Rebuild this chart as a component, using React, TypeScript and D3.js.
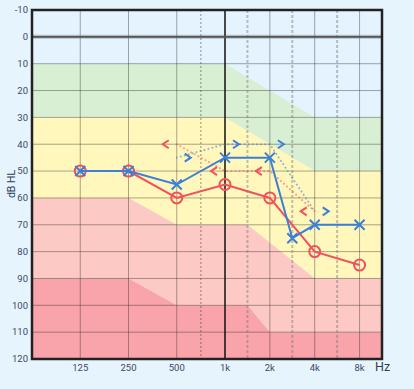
import React from 'react';
import * as d3 from 'd3';

// audiogram values (dB HL)
const tickFreqs = [125, 250, 500, 1000, 2000, 4000, 8000];
const tickLabels = ['125', '250', '500', '1k', '2k', '4k', '8k'];
const midFreqs = [750, 1500, 3000, 6000];
const dbTicks = [-10, 0, 10, 20, 30, 40, 50, 60, 70, 80, 90, 100, 110, 120];

const rightAirFreqs = [125, 250, 500, 1000, 2000, 4000, 8000];
const rightAirDb = [50, 50, 60, 55, 60, 80, 85];
const leftAirFreqs = [125, 250, 500, 1000, 2000, 3000, 4000, 8000];
const leftAirDb = [50, 50, 55, 45, 45, 75, 70, 70];

const boneFreqs = [500, 1000, 2000, 4000];
const rightBoneDb = [40, 50, 50, 65];
const leftBoneDb = [45, 40, 40, 65];

// hearing-loss band edges: [freq, dB]
const edgeNormal: [number, number][] = [[1000, 10], [4000, 30]];
const edgeMild: [number, number][] = [[1000, 30], [4000, 50]];
const edgeModerate: [number, number][] = [[250, 60], [500, 70], [1500, 70], [4000, 90]];
const edgeSevere: [number, number][] = [[250, 90], [500, 100], [1500, 100], [2000, 110]];
const edgeBottom: [number, number][] = [[1000, 120]];

const W = 414;
const H = 389;
const L = 32, R = 382, T = 10, B = 359;

const RED = '#f2505c';
const BLUE = '#3b7fd6';
const TXT = '#3d4766';

// half-octave slot index (125 -> 1, 750 -> 3.5, ...)
const idx = (f: number) => Math.round((Math.log2(f / 125) + 1) * 2) / 2;

const x = d3.scaleLinear().domain([0, 4, 7.5]).range([L, 225, R]);
const y = d3.scaleLinear().domain([-10, 120]).range([T, B]);
const fx = (f: number) => x(idx(f));

const edgePts = (e: [number, number][]) => [
  [x(0), y(e[0][1])] as [number, number],
  ...e.map(([f, d]) => [fx(f), y(d)] as [number, number]),
  [x(7.5), y(e[e.length - 1][1])] as [number, number],
];

const band = (top: [number, number][], bot: [number, number][]) => {
  const pts = [...edgePts(top), ...edgePts(bot).reverse()];
  return d3.line()(pts) + 'Z';
};

const line = d3.line<[number, number]>();

export default function App() {
  const rightPts = rightAirFreqs.map((f, i) => [fx(f), y(rightAirDb[i])] as [number, number]);
  const leftPts = leftAirFreqs.map((f, i) => [fx(f), y(leftAirDb[i])] as [number, number]);
  const rbPts = boneFreqs.map((f, i) => [fx(f), y(rightBoneDb[i])] as [number, number]);
  const lbPts = boneFreqs.map((f, i) => [fx(f), y(leftBoneDb[i])] as [number, number]);
  const font = 'Roboto, "Noto Sans", sans-serif';

  return (
    <svg width={W} height={H} style={{ position: 'absolute', left: 0, top: 0, display: 'block' }}>
      <rect width={W} height={H} fill="#e6f4fd" />
      <rect x={L} y={T} width={R - L} height={B - T} fill="#e4f3fe" />
      <path d={band(edgeNormal, edgeMild)} fill="#d9efd3" />
      <path d={band(edgeMild, edgeModerate)} fill="#fff7bc" />
      <path d={band(edgeModerate, edgeSevere)} fill="#fdc9c4" />
      <path d={band(edgeSevere, edgeBottom)} fill="#f9a3ab" />

      {/* grid */}
      {dbTicks.filter(d => d > -10 && d < 120 && d !== 0).map(d => (
        <line key={'h' + d} x1={L} x2={R} y1={y(d)} y2={y(d)} stroke="rgba(40,40,40,0.4)" strokeWidth={1} />
      ))}
      {tickFreqs.filter(f => f !== 1000).map(f => (
        <line key={'v' + f} x1={fx(f)} x2={fx(f)} y1={T} y2={B} stroke="rgba(40,40,40,0.4)" strokeWidth={1} />
      ))}
      {midFreqs.map(f => (
        f === 750
          ? <line key={'m' + f} x1={fx(f)} x2={fx(f)} y1={T} y2={B} stroke="rgba(60,60,60,0.55)" strokeWidth={1} strokeDasharray="2,2" />
          : <line key={'m' + f} x1={fx(f)} x2={fx(f)} y1={T} y2={B} stroke="rgba(120,120,120,0.45)" strokeWidth={2} strokeDasharray="3,2" />
      ))}
      <line x1={fx(1000)} x2={fx(1000)} y1={T} y2={B} stroke="#111" strokeWidth={1.5} />
      <line x1={L} x2={R} y1={y(0)} y2={y(0)} stroke="rgba(90,90,90,0.35)" strokeWidth={4} />
      <line x1={L} x2={R} y1={y(0)} y2={y(0)} stroke="#555" strokeWidth={1.6} />

      {/* bone conduction dotted lines */}
      <path d={line(rbPts) || ''} fill="none" stroke="rgba(242,80,92,0.55)" strokeWidth={2} strokeDasharray="0.1,4" strokeLinecap="round" />
      <path d={line(lbPts) || ''} fill="none" stroke="rgba(59,127,214,0.55)" strokeWidth={2} strokeDasharray="0.1,4" strokeLinecap="round" />
      {rbPts.map(([px, py], i) => (
        <path key={'rb' + i} d={`M${px - 8},${py - 4}L${px - 14},${py}L${px - 8},${py + 4}`} fill="none" stroke={RED} strokeWidth={2} />
      ))}
      {lbPts.map(([px, py], i) => (
        <path key={'lb' + i} d={`M${px + 8},${py - 4}L${px + 14},${py}L${px + 8},${py + 4}`} fill="none" stroke={BLUE} strokeWidth={2} />
      ))}

      {/* air conduction */}
      <path d={line(rightPts) || ''} fill="none" stroke={RED} strokeWidth={2} />
      {rightPts.map(([px, py], i) => (
        <circle key={'rc' + i} cx={px} cy={py} r={5.5} fill="none" stroke={RED} strokeWidth={2} />
      ))}
      <path d={line(leftPts) || ''} fill="none" stroke={BLUE} strokeWidth={2} />
      {leftPts.map(([px, py], i) => (
        <path key={'lx' + i} d={`M${px - 5},${py - 5}L${px + 5},${py + 5}M${px - 5},${py + 5}L${px + 5},${py - 5}`} stroke={BLUE} strokeWidth={2} />
      ))}

      {/* frame */}
      <rect x={L} y={T} width={R - L} height={B - T} fill="none" stroke="#222" strokeWidth={2.5} />

      {/* labels */}
      {dbTicks.map(d => (
        <text key={'yl' + d} x={28} y={y(d)} dy="0.35em" textAnchor="end" fontSize={9.5} fontFamily={font} fill={TXT}>{d}</text>
      ))}
      {tickFreqs.map((f, i) => (
        <text key={'xl' + f} x={fx(f)} y={367.5} dy="0.35em" textAnchor="middle" fontSize={9.5} fontFamily={font} fill={TXT}>{tickLabels[i]}</text>
      ))}
      <text x={375} y={367} dy="0.35em" fontSize={12.5} fontFamily={font} fill="#2c3e5a">Hz</text>
      <text transform="translate(15,184) rotate(-90)" textAnchor="middle" fontSize={10.5} fontFamily={font} fill="#2c3e5a">dB HL</text>
    </svg>
  );
}
